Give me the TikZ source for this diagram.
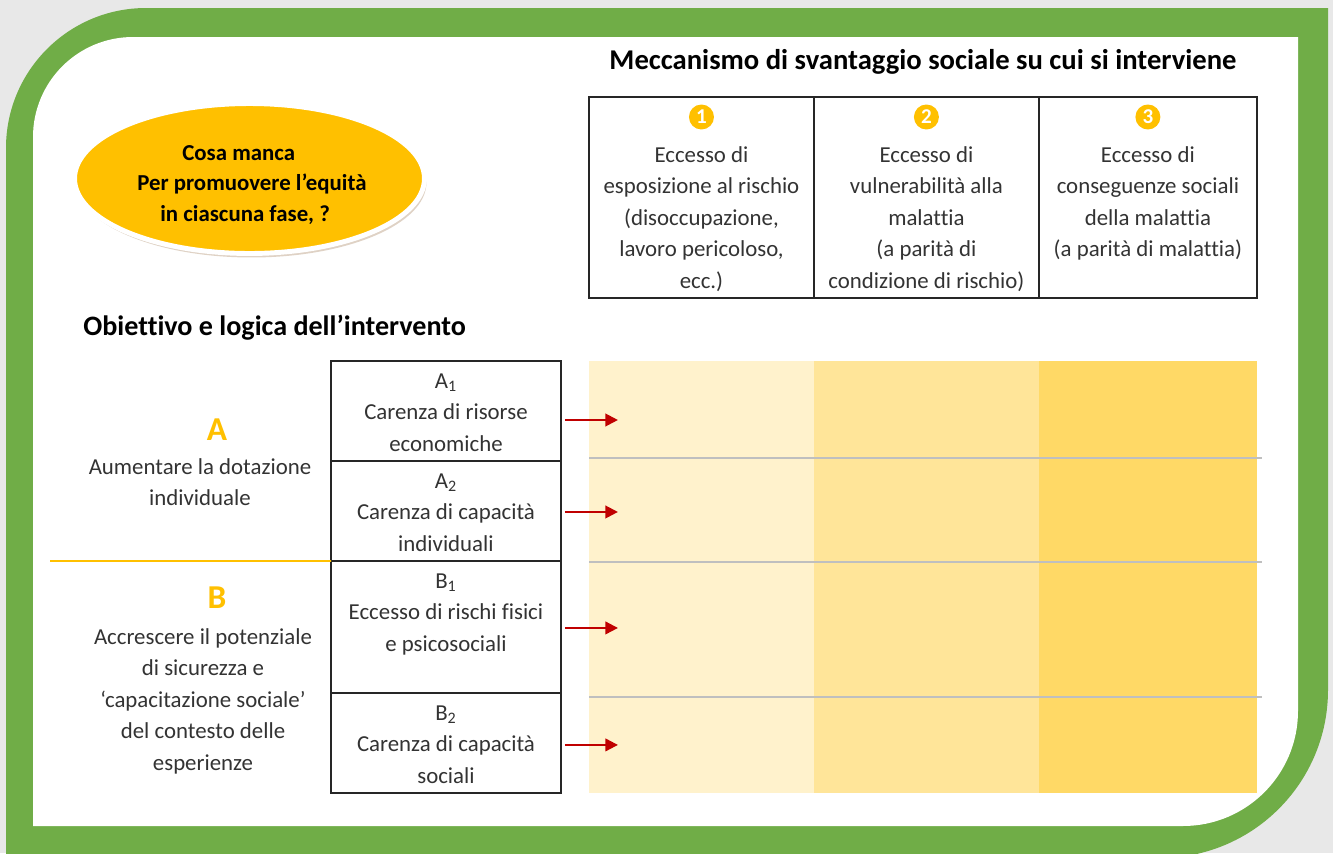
\documentclass[tikz,border=0pt]{standalone}
\usepackage{fontspec}
\setmainfont[Ligatures={TeX,NoCommon}]{Carlito}
\usetikzlibrary{positioning,shapes.geometric,shadows,arrows.meta}

\definecolor{verde}{HTML}{70AD47}
\definecolor{arancio}{HTML}{FFC000}
\definecolor{giallo1}{HTML}{FFF2CC}
\definecolor{giallo2}{HTML}{FFE599}
\definecolor{giallo3}{HTML}{FFD966}
\definecolor{rosso}{HTML}{C00000}
\definecolor{sfondo}{HTML}{E8E8E8}

\begin{document}
\begin{tikzpicture}[x=0.02cm,y=-0.02cm]

\tikzstyle{casella}=[draw=black!85,outer sep=0pt,line width=0.9pt,minimum width=4.6cm]
\tikzstyle{colonna}=[draw=black!85,outer sep=0pt,line width=0.9pt,minimum height=4.02cm,anchor=north west]
\tikzstyle{campo}=[draw=none,outer sep=0pt,minimum height=8.64cm,anchor=north west]
\tikzstyle{testo}=[align=center,inner sep=0pt,anchor=north,text=black!80,font=\fontsize{13}{17.9}\selectfont]
\tikzstyle{numero}=[circle,fill=arancio,text=white,inner sep=0pt,minimum size=0.5cm,font=\fontsize{12}{12}\selectfont\bfseries]
\tikzstyle{lettera}=[inner sep=0pt,text=arancio,font=\fontsize{19}{22}\selectfont\bfseries]
\tikzstyle{freccia}=[rosso,line width=1.2pt,-{Triangle[length=2.5mm,width=2.5mm]}]
\tikzstyle{divisore}=[black!25,line width=0.8pt]

\coordinate (origo) at (0,0);
\useasboundingbox (origo) rectangle (1333,853);
\fill[sfondo] (origo) rectangle (1333,853);

% Cornice

\fill[verde] (6,148) arc[start angle=180,end angle=270,radius=140] -- (1328,8) -- (1328,690) arc[start angle=0,end angle=90,radius=168] -- (6,858) -- cycle;
\fill[white] (33,137) arc[start angle=180,end angle=270,radius=100] -- (1298,37) -- (1298,711) arc[start angle=0,end angle=90,radius=115] -- (33,826) -- cycle;

% Titoli

\node (titolo) [font=\fontsize{16.3}{19}\selectfont\bfseries] at (923,62) {Meccanismo di svantaggio sociale su cui si interviene};
\node (obiettivo) [anchor=west,inner sep=0pt,font=\fontsize{16}{19}\selectfont\bfseries] at (83,328) {Obiettivo e logica dell’intervento};

% Ellisse

\node (ellisse) [ellipse,fill=arancio,draw=white,line width=2.8pt,minimum width=7cm,minimum height=3cm,drop shadow={shadow xshift=0.04cm,shadow yshift=-0.08cm,fill=brown!60!gray,opacity=0.35}] at (249.5,178.5) {};
\node (domanda) [anchor=north west,align=left,inner sep=0pt,font=\fontsize{13}{17.3}\selectfont\bfseries] at (137,145) {\hspace*{0.9cm}Cosa manca\\Per promuovere l’equità\\\hspace*{0.46cm}in ciascuna fase, ?};

% Tabella meccanismi

\node (kol1) [colonna,minimum width=4.5cm] at (589,97) {};
\node (kol2) [colonna,minimum width=4.5cm] at (kol1.north east) {};
\node (kol3) [colonna,minimum width=4.36cm] at (kol2.north east) {};

\node (n1) [numero] at ([yshift=-0.4cm]kol1.north) {1};
\node (n2) [numero] at ([yshift=-0.4cm]kol2.north) {2};
\node (n3) [numero] at ([yshift=-0.4cm]kol3.north) {3};

\node (t1) [testo] at ([yshift=-0.98cm]kol1.north) {Eccesso di\\esposizione al rischio\\(disoccupazione,\\lavoro pericoloso,\\ecc.)};
\node (t2) [testo] at ([yshift=-0.98cm]kol2.north) {Eccesso di\\vulnerabilità alla\\malattia\\(a parità di\\condizione di rischio)};
\node (t3) [testo] at ([yshift=-0.98cm]kol3.north) {Eccesso di\\conseguenze sociali\\della malattia\\(a parità di malattia)};

% Campi gialli

\node (campo1) [campo,fill=giallo1,minimum width=4.5cm] at (589,361) {};
\node (campo2) [campo,fill=giallo2,minimum width=4.5cm] at (campo1.north east) {};
\node (campo3) [campo,fill=giallo3,minimum width=4.36cm] at (campo2.north east) {};

\draw [divisore] ([yshift=-1.94cm]campo1.north west) -- ([xshift=0.1cm,yshift=-1.94cm]campo3.north east);
\draw [divisore] ([yshift=-4.02cm]campo1.north west) -- ([xshift=0.1cm,yshift=-4.02cm]campo3.north east);
\draw [divisore] ([yshift=-6.72cm]campo1.north west) -- ([xshift=0.1cm,yshift=-6.72cm]campo3.north east);

% Caselle A e B

\node (a1) [casella,minimum height=2cm,anchor=north west] at (331,361) {};
\node (a2) [casella,minimum height=2cm,anchor=north] at (a1.south) {};
\node (b1) [casella,minimum height=2.64cm,anchor=north] at (a2.south) {};
\node (b2) [casella,minimum height=2cm,anchor=north] at (b1.south) {};

\node (ta1) [testo] at ([yshift=-0.25cm]a1.north) {A\textsubscript{1}\\Carenza di risorse\\economiche};
\node (ta2) [testo] at ([yshift=-0.25cm]a2.north) {A\textsubscript{2}\\Carenza di capacità\\individuali};
\node (tb1) [testo] at ([yshift=-0.25cm]b1.north) {B\textsubscript{1}\\Eccesso di rischi fisici\\e psicosociali};
\node (tb2) [testo] at ([yshift=-0.25cm]b2.north) {B\textsubscript{2}\\Carenza di capacità\\sociali};

% Obiettivi A e B

\node (letteraA) [lettera] at (217,430) {A};
\node (testoA) [testo] at (200,458) {Aumentare la dotazione\\individuale};

\coordinate (lineaB) at (50,561);
\draw [arancio,line width=1pt] (lineaB) -- (b1.north west);

\node (letteraB) [lettera] at (217,598) {B};
\node (testoB) [testo] at (203,628) {Accrescere il potenziale\\di sicurezza e\\‘capacitazione sociale’\\del contesto delle\\esperienze};

% Frecce

\coordinate (fa1) at ([xshift=1.14cm,yshift=-0.18cm]a1.east);
\coordinate (fa2) at ([xshift=1.14cm,yshift=-0.02cm]a2.east);
\coordinate (fb1) at ([xshift=1.14cm,yshift=-0.02cm]b1.east);
\coordinate (fb2) at ([xshift=1.14cm,yshift=-0.04cm]b2.east);

\draw [freccia] ([xshift=0.08cm,yshift=-0.18cm]a1.east) -- (fa1);
\draw [freccia] ([xshift=0.08cm,yshift=-0.02cm]a2.east) -- (fa2);
\draw [freccia] ([xshift=0.08cm,yshift=-0.02cm]b1.east) -- (fb1);
\draw [freccia] ([xshift=0.08cm,yshift=-0.04cm]b2.east) -- (fb2);

\end{tikzpicture}
\end{document}
